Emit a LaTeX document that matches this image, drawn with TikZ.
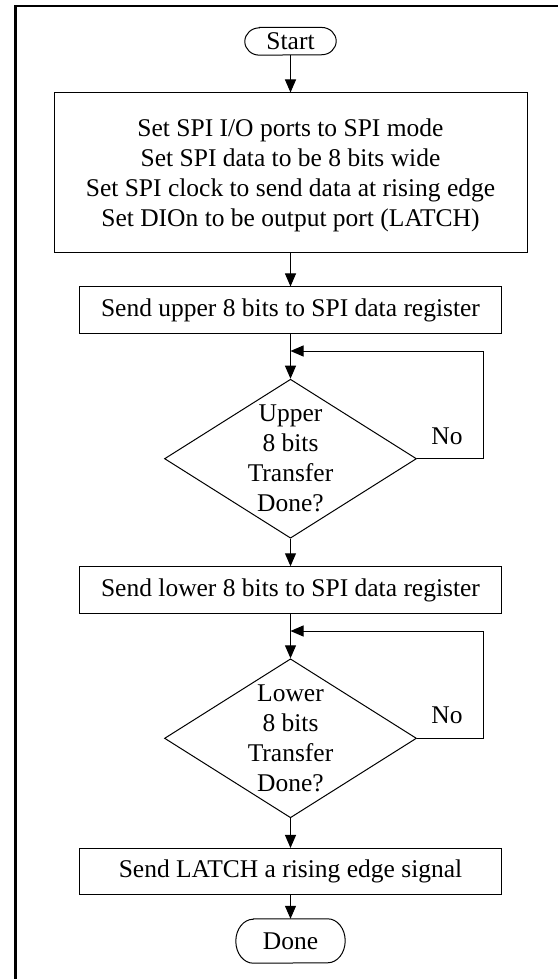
\documentclass[tikz,border=0pt]{standalone}
\usepackage{fontspec}
\setmainfont{Liberation Serif}
\usetikzlibrary{arrows.meta,shapes.geometric}
\tikzset{
  proc/.style={draw, line width=1pt, inner sep=0pt, minimum width=422.5pt, minimum height=46.5pt, align=center, font=\fontsize{25.5}{30}\selectfont},
  bigproc/.style={draw, line width=1pt, inner sep=0pt, minimum width=473pt, minimum height=159pt},
  bigtext/.style={align=center, inner sep=0pt, font=\fontsize{25.5}{30}\selectfont},
  dec/.style={draw, diamond, line width=1pt, inner sep=0pt, minimum width=252pt, minimum height=159pt},
  dectext/.style={align=center, inner sep=0pt, font=\fontsize{25.5}{30}\selectfont},
  termbox/.style={inner sep=0pt, font=\fontsize{25.5}{30}\selectfont},
  termline/.style={line width=1pt},
  flow/.style={line width=1pt, -{Triangle[length=13pt,width=11pt]}},
  lbl/.style={inner sep=0pt, font=\fontsize{25.5}{30}\selectfont},
  frameline/.style={line width=2.4pt},
}
\begin{document}
\begin{tikzpicture}
\useasboundingbox (0,0) rectangle (557pt,-979pt);
\begin{scope}[x=1pt,y=1pt]
% frame
\draw[frameline] (15.3,-985) -- (15.3,-5.8) -- (560,-5.8);

% Start
\node[termbox, minimum width=91pt, minimum height=27.3pt] (start) at (290.5,-41.3) {Start};
\draw[termline] ([xshift=14.5pt]start.north west) -- ([xshift=-14.5pt]start.north east)
  arc[start angle=90, end angle=-90, x radius=14.5pt, y radius=13.65pt]
  -- ([xshift=14.5pt]start.south west)
  arc[start angle=270, end angle=90, x radius=14.5pt, y radius=13.65pt] -- cycle;

% init box
\node[bigproc] (init) at (290.5,-172.5) {};
\node[bigtext] (initt) at (290.5,-175) {Set SPI I/O ports to SPI mode\\Set SPI data to be 8 bits wide\\Set SPI clock to send data at rising edge\\Set DIOn to be output port (LATCH)};

% send upper
\node[proc] (up) at (290.5,-310.2) {Send upper 8 bits to SPI data register};

% decision 1
\node[dec] (d1) at (290.5,-458.7) {};
\node[dectext] (d1t) at (290.5,-458.2) {Upper\\8 bits\\Transfer\\Done?};
\coordinate (j1) at (290.5,-351);
\coordinate (r1) at (483,-351);
\node[lbl] (no1) at (447,-436) {No};

% send lower
\node[proc] (lo) at (290.5,-590) {Send lower 8 bits to SPI data register};

% decision 2
\node[dec] (d2) at (290.5,-738.3) {};
\node[dectext] (d2t) at (290.5,-738) {Lower\\8 bits\\Transfer\\Done?};
\coordinate (j2) at (290.5,-631);
\coordinate (r2) at (483,-631);
\node[lbl] (no2) at (447,-715) {No};

% latch
\node[proc] (latch) at (290.5,-871.7) {Send LATCH a rising edge signal};

% Done
\node[termbox, minimum width=109pt, minimum height=44pt] (done) at (290.5,-941) {Done};
\draw[termline] ([xshift=17.5pt]done.north west) -- ([xshift=-17.5pt]done.north east)
  arc[start angle=90, end angle=-90, x radius=17.5pt, y radius=22pt]
  -- ([xshift=17.5pt]done.south west)
  arc[start angle=270, end angle=90, x radius=17.5pt, y radius=22pt] -- cycle;

% connectors
\draw[flow] (start.south) -- (init.north);
\draw[flow] (init.south) -- (up.north);
\draw[flow] (up.south) -- (d1.north);
\draw[flow] (d1.east) -| (r1) -- (j1);
\draw[flow] (d1.south) -- (lo.north);
\draw[flow] (lo.south) -- (d2.north);
\draw[flow] (d2.east) -| (r2) -- (j2);
\draw[flow] (d2.south) -- (latch.north);
\draw[flow] (latch.south) -- (done.north);
\end{scope}
\end{tikzpicture}
\end{document}
